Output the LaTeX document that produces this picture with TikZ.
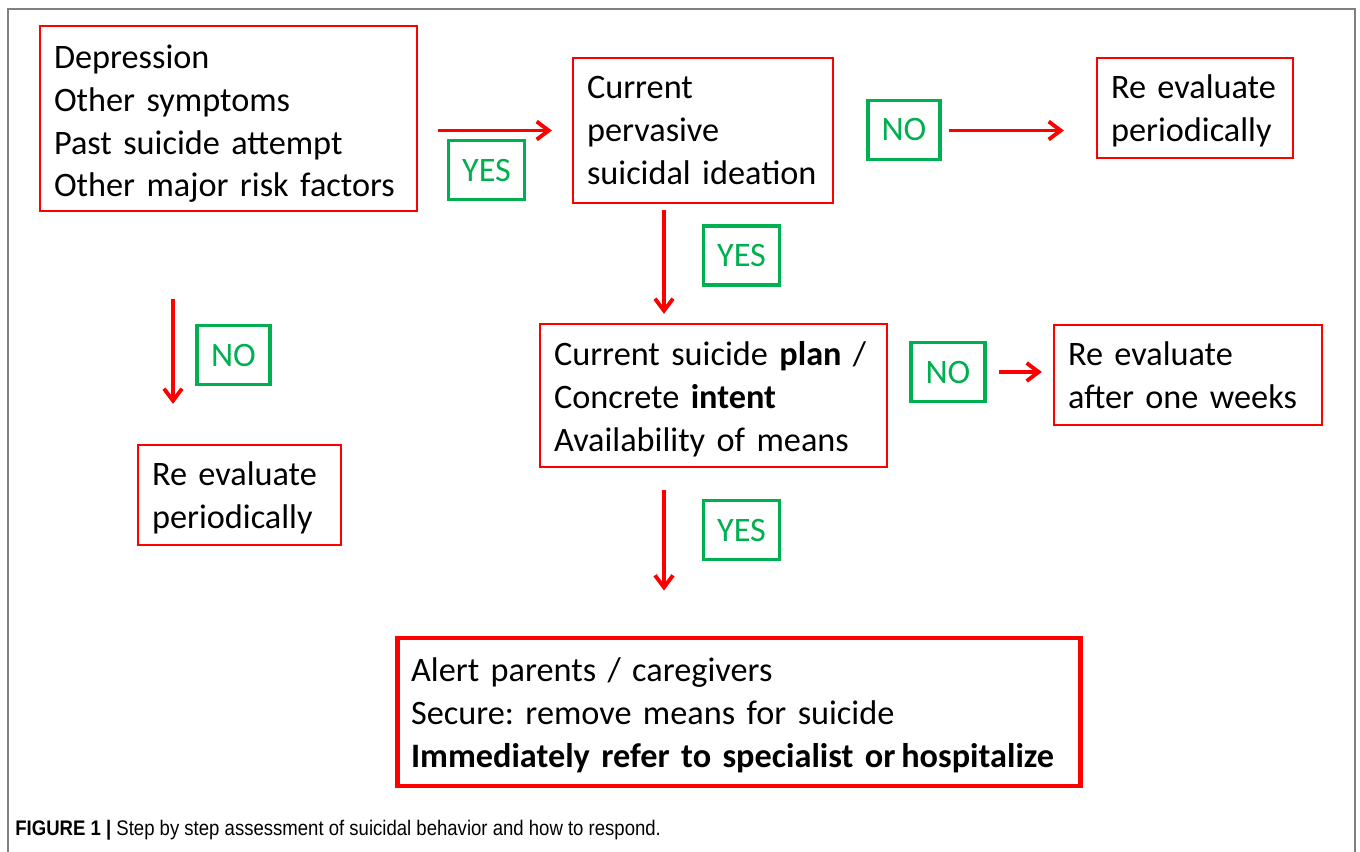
\documentclass[tikz,border=0pt]{standalone}
\usepackage{fontspec}
\setmainfont{Carlito}
\newfontfamily\capfont{Liberation Sans}[FakeStretch=0.88]
\usetikzlibrary{arrows.meta}
\definecolor{okgreen}{RGB}{0,176,80}
\definecolor{framegray}{RGB}{128,128,128}
\frenchspacing

\begin{document}
\begin{tikzpicture}[x=0.02cm,y=-0.02cm,
    box/.style={draw=red,line width=1.3pt,align=left,inner xsep=0.28cm,
        font=\fontsize{19.5}{24.4}\selectfont},
    textdrop/.style={execute at begin node={\rule{0pt}{#1}}},
    answer/.style={draw=okgreen,line width=2pt,text=okgreen,inner sep=0pt,
        minimum width=1.52cm,minimum height=1.18cm,font=\fontsize{19.5}{24.4}\selectfont},
    arr/.style={draw=red,line width=2.2pt,-{Straight Barb[length=2.4mm,width=3.6mm]}}]
    \useasboundingbox (0,0) rectangle (1360,852);
    \draw[framegray,line width=1.1pt] (8,852) -- (8,9) -- (1355,9) -- (1355,852);

    \node[box,textdrop=19.4pt,text width=6.98cm,minimum height=3.7cm] (risk) at (228.5,118.5)
        {Depression\\Other symptoms\\Past suicide attempt\\Other major risk factors};
    \node[box,text width=4.64cm,minimum height=2.9cm] (ideation) at (703,130.5)
        {Current\\pervasive\\suicidal ideation};
    \node[box,textdrop=17pt,text width=3.36cm,minimum height=2.0cm] (reeval1) at (1195,108)
        {Re evaluate\\periodically};
    \node[box,textdrop=18.2pt,text width=6.38cm,minimum height=2.86cm] (plan) at (713.5,395.5)
        {Current suicide \textbf{plan} /\\Concrete \textbf{intent}\\Availability of means};
    \node[box,text width=4.8cm,minimum height=2.0cm] (reeval2) at (1188,375)
        {Re evaluate\\after one weeks};
    \node[box,textdrop=17pt,text width=3.5cm,minimum height=2.0cm] (reeval3) at (239.5,495)
        {Re evaluate\\periodically};
    \node[box,textdrop=17.2pt,line width=2.8pt,text width=13.12cm,minimum height=2.96cm] (act) at (739,712)
        {Alert parents / caregivers\\Secure: remove means for suicide\\
         \textbf{Immediately refer to specialist or\,hospitalize}};

    \node[answer] (yes1) at (486.5,170) {YES};
    \node[answer,minimum width=1.44cm] (no1) at (904,130) {NO};
    \node[answer] (yes2) at (741.5,255.5) {YES};
    \node[answer,minimum width=1.48cm] (no2) at (948,372) {NO};
    \node[answer,minimum width=1.46cm] (no3) at (233.5,355) {NO};
    \node[answer] (yes3) at (741.5,530) {YES};

    \coordinate (midx) at (664,0);
    \coordinate (leftx) at (173,0);
    \draw[arr,shorten <=0.4cm,shorten >=0.4cm] (risk.east |- ideation.west) -- (ideation.west);
    \draw[arr,shorten <=2.3cm,shorten >=0.64cm] (ideation.east) -- (ideation.east -| reeval1.west);
    \draw[arr,shorten <=0.12cm,shorten >=0.18cm] (ideation.south -| midx) -- (plan.north -| midx);
    \draw[arr,shorten <=2.22cm,shorten >=0.22cm] (plan.east |- no2) -- (reeval2.west |- no2);
    \draw[arr,shorten <=1.74cm,shorten >=0.8cm] (risk.south -| leftx) -- (reeval3.north -| leftx);
    \draw[arr,shorten <=0.44cm,shorten >=0.9cm] (plan.south -| midx) -- (act.north -| midx);

    \node[anchor=west,inner sep=0pt,font=\capfont\fontsize{12}{14}\selectfont] (caption) at (15,830)
        {\textbf{FIGURE 1 |} Step by step assessment of suicidal behavior and how to respond.};
\end{tikzpicture}
\end{document}
